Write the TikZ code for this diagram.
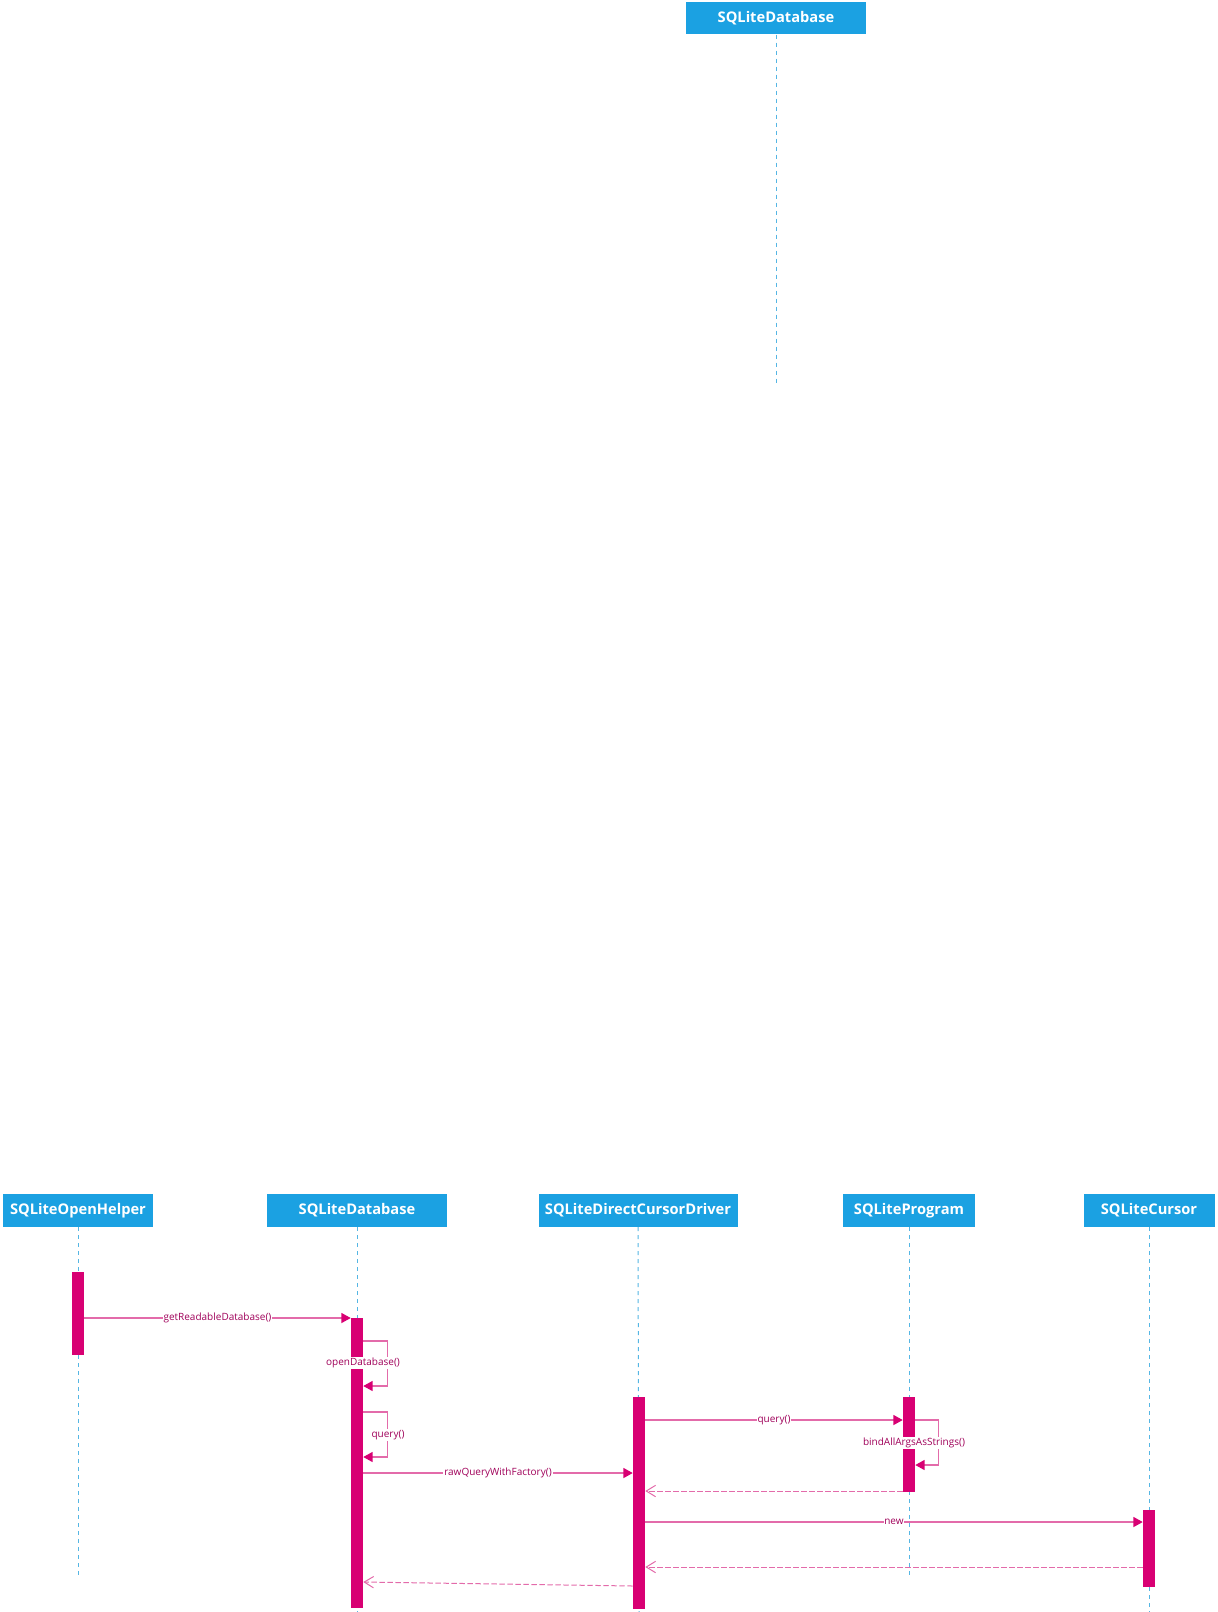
\documentclass[tikz,border=0pt]{standalone}
\usepackage{fontspec}
\setmainfont{Open Sans}
\usetikzlibrary{arrows.meta}
\definecolor{headblue}{HTML}{1BA1E2}
\definecolor{lifeblue}{HTML}{55B6E4}
\definecolor{actpink}{HTML}{D80073}
\definecolor{msgpink}{HTML}{E36BAA}
\definecolor{msgtext}{HTML}{A0005A}

\begin{document}
\begin{tikzpicture}[x=0.75pt,y=-0.75pt,
    head/.style={fill=headblue,text=white,inner sep=0pt,minimum height=24.5pt,
        font=\bfseries\fontsize{11}{13}\selectfont},
    life/.style={lifeblue,line width=0.75pt,dash pattern=on 3pt off 3pt},
    act/.style={fill=actpink,draw=none,minimum width=9pt,inner sep=0pt},
    call/.style={msgpink,line width=1pt,-{Triangle[length=7pt,width=7.5pt,color=actpink]}},
    ret/.style={msgpink,line width=0.75pt,dash pattern=on 4pt off 2pt,
        -{Straight Barb[length=7pt,width=8.5pt]}},
    lbl/.style={fill=white,text=msgtext,inner sep=0.6pt,font=\fontsize{7.5}{9}\selectfont}]
    \useasboundingbox (0,0) rectangle (1217,1612);

    % lonely header at the top
    \node[head,minimum width=135pt] (dbTop) at (776,18) {SQLiteDatabase};
    \coordinate (dbTopEnd) at (776,383);
    \draw[life] (dbTop.south) -- (dbTopEnd);

    % the sequence
    \node[head,minimum width=112.5pt] (helper) at (78,1210.5) {SQLiteOpenHelper};
    \node[head,minimum width=135pt] (db) at (357,1210.5) {SQLiteDatabase};
    \node[head,minimum width=149.25pt] (driver) at (638,1210.5) {SQLiteDirectCursorDriver};
    \node[head,minimum width=99pt] (program) at (909,1210.5) {SQLiteProgram};
    \node[head,minimum width=98.25pt] (cursor) at (1149,1210.5) {SQLiteCursor};

    \draw[life] (helper.south) -- (78,1576);
    \draw[life] (db.south) -- (357,1612);
    \draw[life] (driver.south) -- (639,1612);
    \draw[life] (program.south) -- (909,1576);
    \draw[life] (cursor.south) -- (1149,1612);

    % activations
    \node[act,minimum height=62.25pt] (helperAct) at (78,1313.5) {};
    \node[act,minimum height=217.5pt] (dbAct) at (357,1463) {};
    \node[act,minimum height=159pt] (driverAct) at (639,1503) {};
    \node[act,minimum height=71.25pt] (programAct) at (909,1444.5) {};
    \node[act,minimum height=57.75pt] (cursorAct) at (1149,1548.5) {};

    % message rows
    \coordinate (r1) at (0,1318);
    \coordinate (r2) at (0,1341);
    \coordinate (r3) at (0,1386);
    \coordinate (r4) at (0,1412);
    \coordinate (r5) at (0,1457);
    \coordinate (r6) at (0,1473);
    \coordinate (r7) at (0,1420);
    \coordinate (r8) at (0,1465);
    \coordinate (r9) at (0,1491);
    \coordinate (r10) at (0,1522);
    \coordinate (r11) at (0,1567);
    \coordinate (r12) at (0,1586);
    \coordinate (r13) at (0,1582);

    \draw[call] (helperAct.east |- r1) -- node[lbl] {getReadableDatabase()} (dbAct.west |- r1);

    \draw[call] (dbAct.east |- r2) -- ++(24,0) |- (dbAct.east |- r3);
    \node[lbl] (openLbl) at (363,1363) {openDatabase()};

    \draw[call] (dbAct.east |- r4) -- ++(24,0) |- (dbAct.east |- r5);
    \node[lbl] (queryLbl) at (388,1435) {query()};

    \draw[call] (dbAct.east |- r6) -- node[lbl] {rawQueryWithFactory()} (driverAct.west |- r6);
    \draw[call] (driverAct.east |- r7) -- node[lbl] {query()} (programAct.west |- r7);

    \draw[call] (programAct.east |- r7) -- ++(23,0) |- (programAct.east |- r8);
    \node[lbl] (bindLbl) at (914,1443) {bindAllArgsAsStrings()};

    \draw[ret] (programAct.west |- r9) -- (driverAct.east |- r9);
    \draw[call] (driverAct.east |- r10) -- node[lbl] {new} (cursorAct.west |- r10);
    \draw[ret] (cursorAct.west |- r11) -- (driverAct.east |- r11);
    \draw[ret] (driverAct.west |- r12) -- (dbAct.east |- r13);

\end{tikzpicture}
\end{document}
